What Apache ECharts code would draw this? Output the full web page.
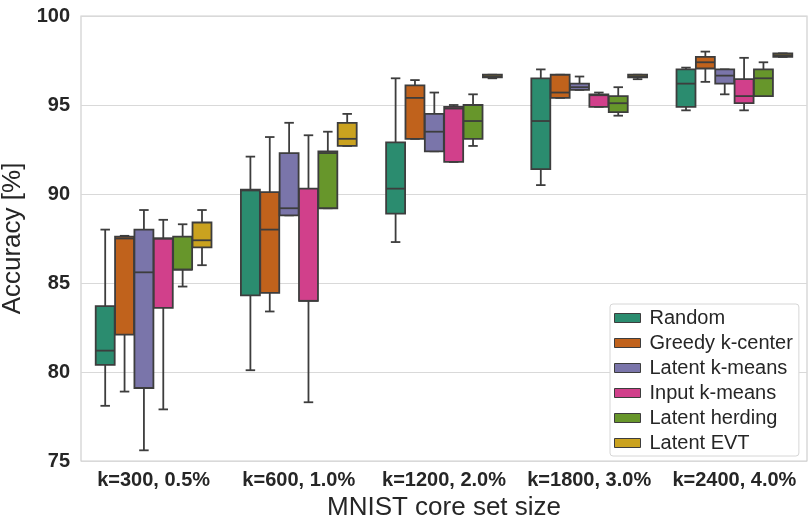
<!DOCTYPE html>
<html>
<head>
<meta charset="utf-8">
<script src="https://cdn.jsdelivr.net/npm/echarts@6/dist/echarts.min.js"></script>
<style>
  html, body { margin: 0; padding: 0; background: #fff; }
  #chart { width: 810px; height: 526px; }
</style>
</head>
<body>
<div id="chart"></div>
<script>
// core set sizes on the x axis
const categories = ["k=300, 0.5%", "k=600, 1.0%", "k=1200, 2.0%", "k=1800, 3.0%", "k=2400, 4.0%"];
const yTicks = [75, 80, 85, 90, 95, 100];

// each row: [min, q1, median, q3, max] for one core set size
const random = [
  [78.1, 80.4, 81.2, 83.7, 88.0],
  [80.1, 84.3, 90.2, 90.25, 92.1],
  [87.3, 88.9, 90.3, 92.9, 96.5],
  [90.5, 91.4, 94.1, 96.5, 97.0],
  [94.7, 94.9, 96.2, 97.0, 97.1]
];
const greedyKCenter = [
  [78.9, 82.1, 87.5, 87.6, 87.65],
  [83.4, 84.45, 88.0, 90.1, 93.2],
  [93.1, 93.1, 95.4, 96.1, 96.4],
  [95.4, 95.4, 95.7, 96.7, 96.7],
  [96.3, 97.05, 97.4, 97.7, 98.0]
];
const latentKMeans = [
  [75.6, 79.1, 85.6, 88.0, 89.1],
  [88.8, 88.8, 89.2, 92.3, 94.0],
  [92.4, 92.4, 93.5, 94.5, 95.7],
  [95.85, 95.85, 96.0, 96.2, 96.6],
  [95.6, 96.2, 96.65, 97.0, 97.0]
];
const inputKMeans = [
  [77.9, 83.6, 87.5, 87.5, 88.55],
  [78.3, 84.0, 84.0, 90.3, 93.3],
  [91.8, 91.8, 94.8, 94.9, 95.0],
  [94.9, 94.9, 95.55, 95.6, 95.7],
  [94.7, 95.1, 95.5, 96.45, 97.65]
];
const latentHerding = [
  [84.8, 85.75, 85.75, 87.6, 88.3],
  [89.2, 89.2, 92.3, 92.4, 93.5],
  [92.7, 93.1, 94.1, 95.0, 95.6],
  [94.4, 94.6, 95.1, 95.5, 96.0],
  [95.5, 95.5, 96.5, 97.0, 97.4]
];
const latentEVT = [
  [86.0, 87.0, 87.4, 88.4, 89.1],
  [92.7, 92.7, 93.1, 94.0, 94.5],
  [96.5, 96.55, 96.6, 96.7, 96.7],
  [96.45, 96.55, 96.6, 96.7, 96.7],
  [97.7, 97.7, 97.8, 97.9, 97.9]
];

const methods = [
  { name: "Random", data: random, color: "#2b8c6f" },
  { name: "Greedy k-center", data: greedyKCenter, color: "#c0621c" },
  { name: "Latent k-means", data: latentKMeans, color: "#7a75aa" },
  { name: "Input k-means", data: inputKMeans, color: "#d1408b" },
  { name: "Latent herding", data: latentHerding, color: "#67962b" },
  { name: "Latent EVT", data: latentEVT, color: "#caa21f" }
];

const FONT = "Liberation Sans, Arial, Helvetica, sans-serif";
const LINE = "#3d3d3d";
const nHue = methods.length;

// draws one box (seaborn style: dodge by hue, 0.8 of the band)
function boxRenderer(hueIdx) {
  return function (params, api) {
    const cat = api.value(0);
    const band = api.size([1, 0])[0];
    const slot = band * 0.8 / nHue;
    const w = slot * 0.98;
    const cx = api.coord([cat, 0])[0] - band * 0.4 + slot * (hueIdx + 0.5);
    const yMin = api.coord([cat, api.value(1)])[1];
    const yQ1 = api.coord([cat, api.value(2)])[1];
    const yMed = api.coord([cat, api.value(3)])[1];
    const yQ3 = api.coord([cat, api.value(4)])[1];
    const yMax = api.coord([cat, api.value(5)])[1];
    const cap = w / 4;
    const ls = { stroke: LINE, lineWidth: 1.8 };
    return {
      type: "group",
      children: [
        { type: "line", shape: { x1: cx, y1: yQ3, x2: cx, y2: yMax }, style: ls },
        { type: "line", shape: { x1: cx, y1: yQ1, x2: cx, y2: yMin }, style: ls },
        { type: "line", shape: { x1: cx - cap, y1: yMax, x2: cx + cap, y2: yMax }, style: ls },
        { type: "line", shape: { x1: cx - cap, y1: yMin, x2: cx + cap, y2: yMin }, style: ls },
        {
          type: "rect",
          shape: { x: cx - w / 2, y: yQ3, width: w, height: Math.max(yQ1 - yQ3, 1) },
          style: { fill: api.visual("color"), stroke: LINE, lineWidth: 1.8 }
        },
        { type: "line", shape: { x1: cx - w / 2, y1: yMed, x2: cx + w / 2, y2: yMed }, style: ls }
      ]
    };
  };
}

const chart = echarts.init(document.getElementById("chart"), null, { renderer: "canvas" });

const option = {
  animation: false,
  backgroundColor: "#ffffff",
  textStyle: { fontFamily: FONT },
  grid: {
    left: 81, right: 3, top: 16, bottom: 65,
    outerBoundsMode: "none",
    containLabel: false,
    show: true, borderColor: "#cfcfcf", borderWidth: 1.2, backgroundColor: "transparent"
  },
  legend: {
    orient: "vertical",
    left: 610,
    top: 304,
    padding: [4, 6, 3, 4],
    itemWidth: 26,
    itemHeight: 9,
    itemGap: 5,
    icon: "rect",
    backgroundColor: "#ffffff",
    borderColor: "#d6d6d6",
    borderWidth: 1,
    borderRadius: 3,
    itemStyle: { borderColor: LINE, borderWidth: 1 },
    textStyle: { fontFamily: FONT, fontSize: 20, color: "#262626", padding: [0, 0, 0, 4] },
    data: methods.map(m => m.name)
  },
  xAxis: {
    type: "category",
    data: categories,
    boundaryGap: true,
    axisLine: { show: false },
    axisTick: { show: false },
    axisLabel: {
      fontFamily: FONT, fontSize: 20, fontWeight: "bold", color: "#262626", margin: 9,
      interval: 0
    },
    name: "MNIST core set size",
    nameLocation: "middle",
    nameGap: 31,
    nameTextStyle: { fontFamily: FONT, fontSize: 26, color: "#262626", verticalAlign: "top" }
  },
  yAxis: {
    type: "value",
    min: 75,
    max: 100,
    interval: 5,
    axisLine: { show: false },
    axisTick: { show: false },
    splitLine: { lineStyle: { color: "#d9d9d9", width: 1.2 } },
    axisLabel: {
      fontFamily: FONT, fontSize: 20, fontWeight: "bold", color: "#262626", margin: 11,
      formatter: v => (yTicks.includes(v) ? String(v) : "")
    },
    name: "Accuracy [%]",
    nameLocation: "middle",
    nameGap: 49,
    nameTextStyle: { fontFamily: FONT, fontSize: 26, color: "#262626", verticalAlign: "bottom" }
  },
  series: methods.map((m, i) => ({
    name: m.name,
    type: "custom",
    renderItem: boxRenderer(i),
    itemStyle: { color: m.color, borderColor: LINE, borderWidth: 1 },
    encode: { x: 0, y: [1, 2, 3, 4, 5] },
    data: m.data.map((row, c) => [c].concat(row)),
    z: 2
  }))
};

chart.setOption(option);
</script>
</body>
</html>
